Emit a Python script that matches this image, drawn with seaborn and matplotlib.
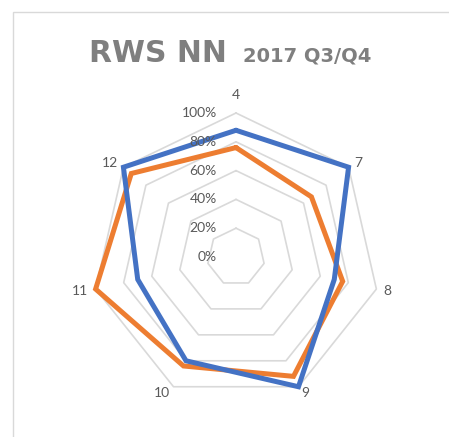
import numpy as np
import pandas as pd
import matplotlib
matplotlib.use('Agg')
import matplotlib.pyplot as plt
import seaborn as sns

# chart data
categories = ['4', '7', '8', '9', '10', '11', '12']
blue_vals = [0.88, 1.00, 0.70, 1.00, 0.80, 0.70, 1.00]
orange_vals = [0.76, 0.67, 0.76, 0.92, 0.84, 1.00, 0.93]
r_ticks = [0.0, 0.2, 0.4, 0.6, 0.8, 1.0]
r_labels = ['0%', '20%', '40%', '60%', '80%', '100%']
title_main = 'RWS NN'
title_sub = '2017 Q3/Q4'

sns.set_theme(style='white')
plt.rcParams['font.family'] = ['Lato', 'DejaVu Sans']

n = len(categories)
theta = np.linspace(0, 2 * np.pi, n, endpoint=False)
theta_closed = np.append(theta, 2 * np.pi)

rows = []
for name, vals in [('orange', orange_vals), ('blue', blue_vals)]:
    closed = list(vals) + [vals[0]]
    for t, v in zip(theta_closed, closed):
        rows.append({'theta': t, 'value': v, 'series': name})
df = pd.DataFrame(rows)

W, H = 449, 437
fig = plt.figure(figsize=(W / 100, H / 100), dpi=100)

# axes placement (pixels): centre and outer radius
cx, cy, R = 236, 257, 144
ax = fig.add_axes([(cx - R) / W, (H - cy - R) / H, 2 * R / W, 2 * R / H],
                  projection='polar')
ax.set_theta_offset(np.pi / 2)
ax.set_theta_direction(-1)
ax.set_ylim(0, 1)
ax.grid(False)
ax.set_xticks([])
ax.set_yticks([])
ax.spines['polar'].set_visible(False)
ax.patch.set_visible(False)

# heptagon grid
for v in r_ticks[1:]:
    ax.plot(theta_closed, [v] * (n + 1), color='#d9d9d9', lw=1.2,
            clip_on=False, zorder=1)

sns.lineplot(data=df, x='theta', y='value', hue='series',
             hue_order=['orange', 'blue'],
             palette={'orange': '#ED7D31', 'blue': '#4472C4'},
             sort=False, estimator=None, lw=3.6, legend=False,
             solid_joinstyle='miter', clip_on=False, zorder=3, ax=ax)
ax.set_xlabel('')
ax.set_ylabel('')

# category labels
for t, lab in zip(theta, categories):
    s = np.sin(t)
    if s > 0.1:
        ha = 'left'
    elif s < -0.1:
        ha = 'right'
    else:
        ha = 'center'
    r = 1.125 if ha == 'center' else 1.05
    ax.text(t, r, lab, ha=ha, va='center', fontsize=10, color='#595959',
            clip_on=False)

# radial labels, left of the top axis
for v, lab in zip(r_ticks, r_labels):
    ax.annotate(lab, xy=(0, v), xytext=(-13.7, 0), textcoords='offset points',
                ha='right', va='center', fontsize=10, color='#595959',
                annotation_clip=False)

# title in two sizes, shared baseline
t1 = fig.text(89 / W, 1 - 62 / H, title_main, ha='left', va='baseline',
              fontsize=21.5, fontweight='bold', color='#7f7f7f',
              family=['DejaVu Sans'])
fig.canvas.draw()
bb = t1.get_window_extent()
fig.text((bb.x1 + 16) / W, 1 - 62 / H, title_sub, ha='left', va='baseline',
         fontsize=14, fontweight='bold', color='#7f7f7f',
         family=['DejaVu Sans'])

# chart area border (only top and left edges fall inside the picture)
fig.add_artist(plt.Rectangle((13 / W, -0.2), 2, 1.2 - 12 / H,
                             transform=fig.transFigure, fill=False,
                             edgecolor='#d9d9d9', lw=1.0))

fig.savefig('out.png', dpi=100)
